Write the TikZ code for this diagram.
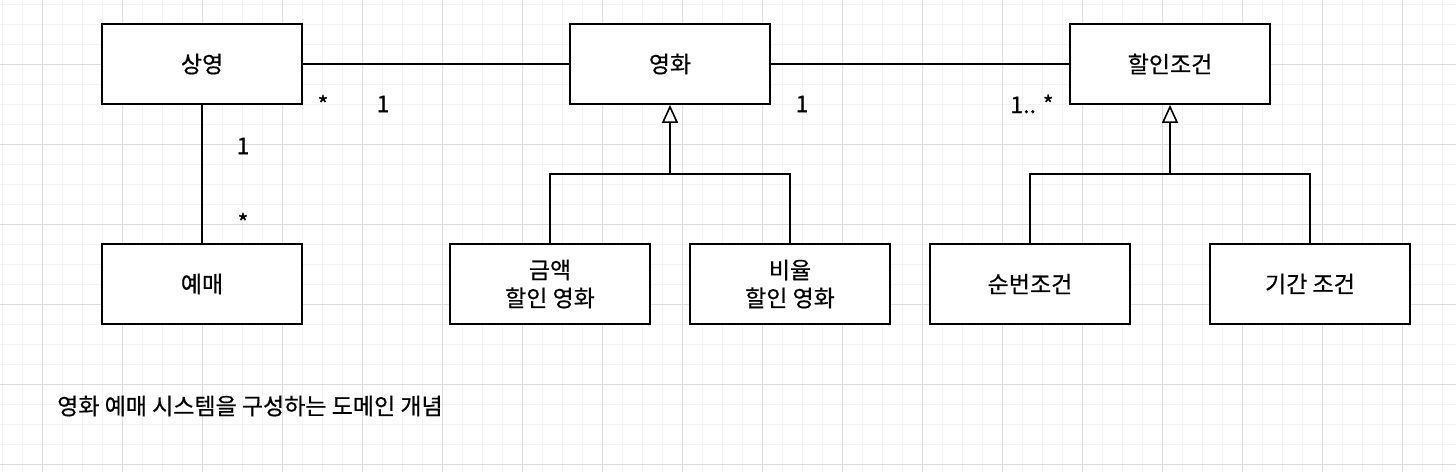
\documentclass[tikz,border=0pt]{standalone}
\usepackage{fontspec}
\setmainfont{Noto Sans CJK KR}[FakeBold=0.6]
\usetikzlibrary{arrows.meta}
\definecolor{gridminor}{HTML}{F3F3F3}
\definecolor{gridmajor}{HTML}{DDDDDD}
\tikzset{
  cls/.style={draw=black, line width=1.8pt, fill=white, minimum width=200pt, minimum height=80pt, inner sep=0pt, align=center, font=\fontsize{23}{28}\selectfont},
  conn/.style={draw=black, line width=1.6pt},
  inherit/.style={conn, -{Triangle[open, length=18pt, width=16pt, line width=1.6pt]}},
  mult/.style={font=\fontsize{23}{26}\selectfont, inner sep=0pt},
}
\begin{document}
\begin{tikzpicture}[x=1pt, y=-1pt]
\useasboundingbox (0,0) rectangle (1456,472);
\fill[white] (0,0) rectangle (1456,472);
% grid
\foreach \gx in {2,22,...,1456} \draw[gridminor, line width=1pt] (\gx,0) -- (\gx,472);
\foreach \gy in {4,24,...,472} \draw[gridminor, line width=1pt] (0,\gy) -- (1456,\gy);
\foreach \gx in {42,122,...,1456} \draw[gridmajor, line width=1pt] (\gx,0) -- (\gx,472);
\foreach \gy in {64,144,...,472} \draw[gridmajor, line width=1pt] (0,\gy) -- (1456,\gy);

% classes
\node[cls] (sy) at (202,64) {상영};
\node[cls] (mv) at (670,64) {영화};
\node[cls] (dc) at (1170,64) {할인조건};
\node[cls] (rs) at (202,284) {예매};
\node[cls] (am) at (550,284) {금액\\할인 영화};
\node[cls] (pc) at (790,284) {비율\\할인 영화};
\node[cls] (sq) at (1030,284) {순번조건};
\node[cls] (pd) at (1310,284) {기간 조건};

% associations
\draw[conn] (sy.east) -- (mv.west);
\draw[conn] (mv.east) -- (dc.west);
\draw[conn] (sy.south) -- (rs.north);

% generalizations
\coordinate (mvj) at (670,174);
\coordinate (dcj) at (1170,174);
\draw[conn] (am.north) |- (mvj) -| (pc.north);
\draw[inherit] (mvj) -- (mv.south);
\draw[conn] (sq.north) |- (dcj) -| (pd.north);
\draw[inherit] (dcj) -- (dc.south);

% multiplicities
\node[mult] (m1) at (323,104) {*};
\node[mult] (m2) at (383,104) {1};
\node[mult] (m3) at (243,146) {1};
\node[mult] (m4) at (243,222) {*};
\node[mult] (m5) at (802,104) {1};
\node[mult] (m6) at (1032,104) {1.. *};

% caption
\node[anchor=west, inner sep=0pt, font=\fontsize{23}{26}\selectfont] (cap) at (57,406) {영화 예매 시스템을 구성하는 도메인 개념};
\end{tikzpicture}
\end{document}
